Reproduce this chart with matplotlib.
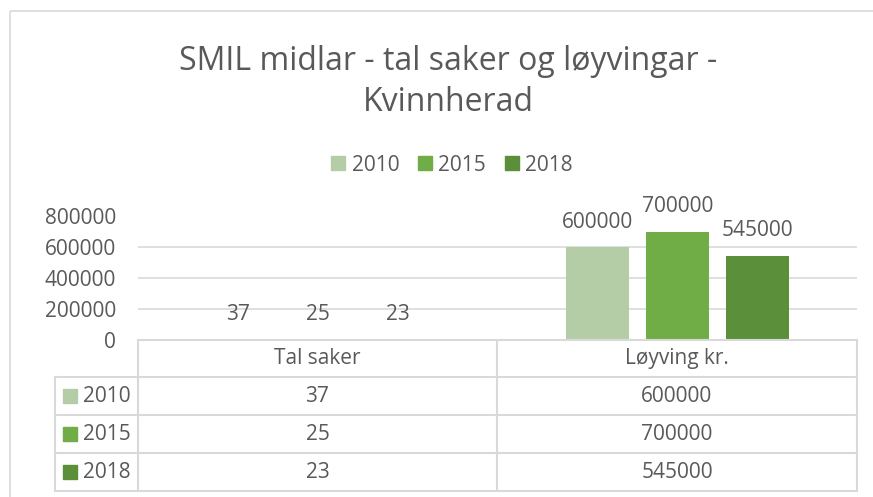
import numpy as np
import matplotlib.pyplot as plt
from matplotlib.patches import Patch, Rectangle
from matplotlib.lines import Line2D
from matplotlib.transforms import Affine2D

plt.rcParams['font.family'] = ['Open Sans', 'DejaVu Sans']

categories = ['Tal saker', 'Løyving kr.']
years = ['2010', '2015', '2018']
values = {
    '2010': [37, 600000],
    '2015': [25, 700000],
    '2018': [23, 545000],
}
colors = ['#B4CDA7', '#70AD47', '#5B8F3A']
title = 'SMIL midlar - tal saker og løyvingar -\nKvinnherad'

W, H = 873, 497
txt = '#595959'
grid = '#D9D9D9'

fig = plt.figure(figsize=(W / 100, H / 100), dpi=100)
# pixel coords, y measured from the top
px = Affine2D().scale(1 / W, -1 / H).translate(0, 1) + fig.transFigure

# chart border
fig.add_artist(Rectangle((10, 11), 900, 520, transform=px, fill=False,
                         edgecolor=grid, lw=1.2))

x0, x1, ytop, ybot = 138, 857, 216.5, 340
ax = fig.add_axes([x0 / W, 1 - ybot / H, (x1 - x0) / W, (ybot - ytop) / H])

x = np.arange(len(categories))
bw = 0.175
step = 0.222
for i, yr in enumerate(years):
    pos = x + (i - 1) * step
    bars = ax.bar(pos, values[yr], width=bw, color=colors[i], zorder=3)
    for p, v in zip(pos, values[yr]):
        ax.annotate(str(v), (p, v), xytext=(0, 18), textcoords='offset points',
                    ha='center', va='center', fontsize=15, color=txt)

ax.set_xlim(-0.5, 1.5)
ax.set_ylim(0, 800000)
ax.set_yticks(np.arange(0, 800001, 200000))
ax.set_xticks([])
ax.yaxis.grid(True, color=grid, lw=1.2)
ax.set_axisbelow(True)
for s in ax.spines.values():
    s.set_visible(False)
ax.tick_params(axis='y', length=0, pad=16, labelsize=15, labelcolor=txt)

fig.text(448 / W, 1 - 82 / H, title, ha='center', va='center', fontsize=23,
         color=txt, linespacing=1.3)

handles = [Patch(color=c) for c in colors]
fig.legend(handles, years, loc='center', bbox_to_anchor=(452 / W, 1 - 165 / H),
           ncol=3, frameon=False, fontsize=15, labelcolor=txt,
           handlelength=0.67, handleheight=0.67, handletextpad=0.3,
           columnspacing=0.9)

# data table
col_edges = [138, 497, 857]
row_edges = [340, 377, 415, 453, 491]
lab_left = 55


def hline(y, xa, xb):
    fig.add_artist(Line2D([xa, xb], [y, y], transform=px, color=grid, lw=1.5))


def vline(xv, ya, yb):
    fig.add_artist(Line2D([xv, xv], [ya, yb], transform=px, color=grid, lw=1.5))


hline(row_edges[0], col_edges[0], col_edges[-1])
for y in row_edges[1:]:
    hline(y, lab_left, col_edges[-1])
for xv in col_edges:
    vline(xv, row_edges[0], row_edges[-1])
vline(lab_left, row_edges[1], row_edges[-1])

for j, cat in enumerate(categories):
    cx = (col_edges[j] + col_edges[j + 1]) / 2
    cy = (row_edges[0] + row_edges[1]) / 2
    fig.text(cx / W, 1 - cy / H, cat, ha='center', va='center', fontsize=15, color=txt)

for i, yr in enumerate(years):
    cy = (row_edges[i + 1] + row_edges[i + 2]) / 2
    fig.add_artist(Rectangle((63, cy - 7), 14, 14, transform=px, color=colors[i]))
    fig.text(83 / W, 1 - cy / H, yr, ha='left', va='center', fontsize=15, color=txt)
    for j in range(len(categories)):
        cx = (col_edges[j] + col_edges[j + 1]) / 2
        fig.text(cx / W, 1 - cy / H, str(values[yr][j]), ha='center', va='center',
                 fontsize=15, color=txt)

fig.savefig('out.png', dpi=100)
